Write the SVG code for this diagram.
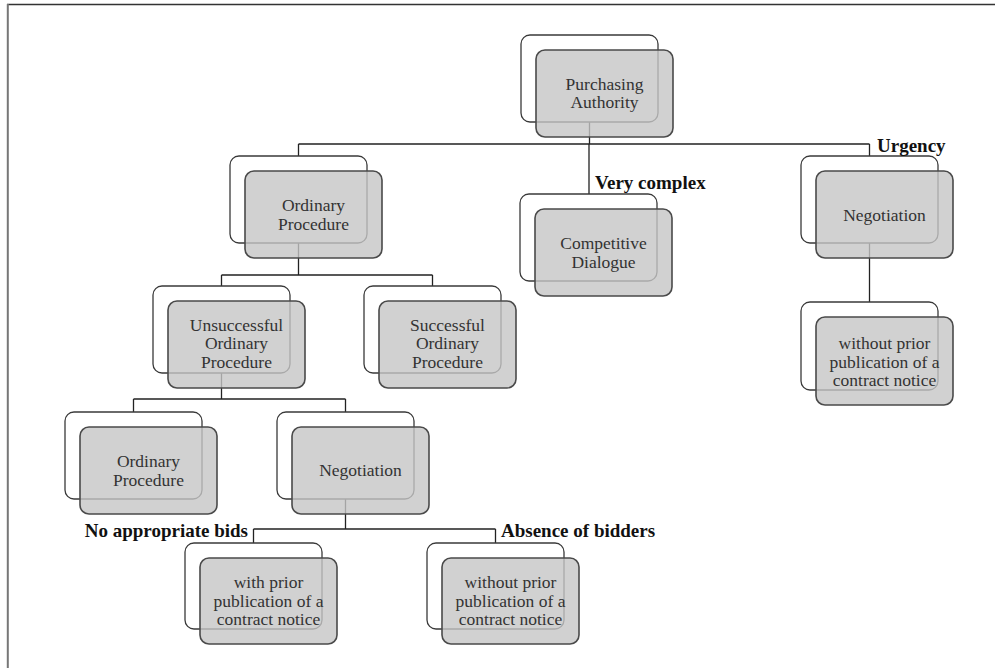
<svg xmlns="http://www.w3.org/2000/svg" width="995" height="668" viewBox="0 0 995 668">
<defs>
<style>
.bk{fill:#ffffff;stroke:#3a3a3a;stroke-width:1.3}
.fr{fill:#c6c6c6;fill-opacity:0.8;stroke:#4a4a4a;stroke-width:1.6}
.t{font-family:"Liberation Serif","Times New Roman",serif;font-size:17.5px;fill:#333333;text-anchor:middle}
.lb{font-family:"Liberation Serif","Times New Roman",serif;font-size:19px;font-weight:bold;fill:#111111}
.c{fill:none;stroke:#222222;stroke-width:1.3}
</style>
</defs>
<rect x="0" y="0" width="995" height="668" fill="#ffffff"/>
<line x1="7" y1="4.5" x2="995" y2="4.5" stroke="#333333" stroke-width="1.5"/>
<line x1="7.8" y1="4" x2="7.8" y2="668" stroke="#777777" stroke-width="2"/>
<g id="connectors">
<path class="c" d="M589.5 122 V144 M298.5 144 H869.5 M298.5 144 V156 M589 144 V194 M869.5 144 V156"/>
<path class="c" d="M298.5 243 V275 M221.5 275 H432.5 M221.5 275 V286 M432.5 275 V286"/>
<path class="c" d="M869.5 243 V302"/>
<path class="c" d="M221.5 373 V399 M133.5 399 H345.5 M133.5 399 V412 M345.5 399 V412"/>
<path class="c" d="M345.5 499 V529 M253.5 529 H495.5 M253.5 529 V543 M495.5 529 V543"/>
</g>
<g id="purchasing-authority">
<rect class="bk" x="521" y="35" width="137" height="87" rx="9"/>
<rect class="fr" x="536" y="50" width="137" height="87" rx="9"/>
<text class="t" x="604.5" y="89.5">Purchasing</text>
<text class="t" x="604.5" y="108">Authority</text>
</g>
<g id="ordinary-procedure-1">
<rect class="bk" x="230" y="156" width="137" height="87" rx="9"/>
<rect class="fr" x="245" y="171" width="137" height="87" rx="9"/>
<text class="t" x="313.5" y="211">Ordinary</text>
<text class="t" x="313.5" y="229.5">Procedure</text>
</g>
<g id="competitive-dialogue">
<rect class="bk" x="520" y="194" width="137" height="87" rx="9"/>
<rect class="fr" x="535" y="209" width="137" height="87" rx="9"/>
<text class="t" x="603.5" y="249">Competitive</text>
<text class="t" x="603.5" y="267.5">Dialogue</text>
</g>
<g id="negotiation-urgency">
<rect class="bk" x="801" y="156" width="137" height="87" rx="9"/>
<rect class="fr" x="816" y="171" width="137" height="87" rx="9"/>
<text class="t" x="884.5" y="220.5">Negotiation</text>
</g>
<g id="without-prior-urgency">
<rect class="bk" x="801" y="302" width="137" height="88" rx="9"/>
<rect class="fr" x="816" y="317" width="137" height="88" rx="9"/>
<text class="t" x="884.5" y="349">without prior</text>
<text class="t" x="884.5" y="367.5">publication of a</text>
<text class="t" x="884.5" y="386">contract notice</text>
</g>
<g id="unsuccessful-ordinary-procedure">
<rect class="bk" x="153" y="286" width="137" height="87" rx="9"/>
<rect class="fr" x="168" y="301" width="137" height="87" rx="9"/>
<text class="t" x="236.5" y="330.5">Unsuccessful</text>
<text class="t" x="236.5" y="349">Ordinary</text>
<text class="t" x="236.5" y="367.5">Procedure</text>
</g>
<g id="successful-ordinary-procedure">
<rect class="bk" x="364" y="286" width="137" height="87" rx="9"/>
<rect class="fr" x="379" y="301" width="137" height="87" rx="9"/>
<text class="t" x="447.5" y="330.5">Successful</text>
<text class="t" x="447.5" y="349">Ordinary</text>
<text class="t" x="447.5" y="367.5">Procedure</text>
</g>
<g id="ordinary-procedure-3">
<rect class="bk" x="65" y="412" width="137" height="87" rx="9"/>
<rect class="fr" x="80" y="427" width="137" height="87" rx="9"/>
<text class="t" x="148.5" y="467">Ordinary</text>
<text class="t" x="148.5" y="485.5">Procedure</text>
</g>
<g id="negotiation-3">
<rect class="bk" x="277" y="412" width="137" height="87" rx="9"/>
<rect class="fr" x="292" y="427" width="137" height="87" rx="9"/>
<text class="t" x="360.5" y="476">Negotiation</text>
</g>
<g id="with-prior">
<rect class="bk" x="185" y="543" width="137" height="86" rx="9"/>
<rect class="fr" x="200" y="558" width="137" height="86" rx="9"/>
<text class="t" x="268.5" y="588">with prior</text>
<text class="t" x="268.5" y="606.5">publication of a</text>
<text class="t" x="268.5" y="625">contract notice</text>
</g>
<g id="without-prior">
<rect class="bk" x="427" y="543" width="137" height="86" rx="9"/>
<rect class="fr" x="442" y="558" width="137" height="86" rx="9"/>
<text class="t" x="510.5" y="588">without prior</text>
<text class="t" x="510.5" y="606.5">publication of a</text>
<text class="t" x="510.5" y="625">contract notice</text>
</g>
<g id="labels">
<text class="lb" x="595" y="189">Very complex</text>
<text class="lb" x="877" y="152">Urgency</text>
<text class="lb" x="248" y="537" text-anchor="end">No appropriate bids</text>
<text class="lb" x="501" y="537">Absence of bidders</text>
</g>
</svg>
